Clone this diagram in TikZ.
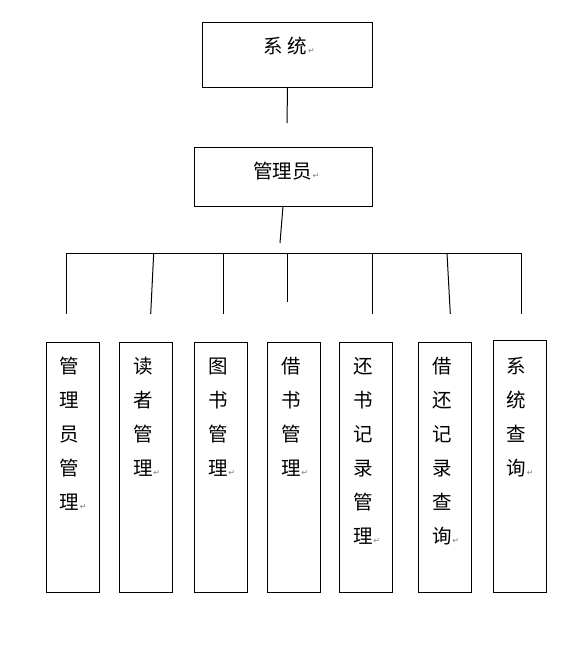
\documentclass[tikz,border=0pt]{standalone}
\usepackage{fontspec}
\newfontfamily\cjk{Noto Sans CJK SC}
\newfontfamily\dv{DejaVu Sans}
\tikzset{
 box/.style={draw=black, line width=1pt, inner sep=0pt, anchor=north west},
 ch/.style={font=\cjk\fontsize{19.5}{19.5}\selectfont, inner sep=0pt, anchor=base west},
 ret/.style={font=\dv\fontsize{8}{8}\selectfont, text=gray, inner sep=0pt, anchor=base west},
 conn/.style={line width=1pt, black},
}
\begin{document}
\begin{tikzpicture}[x=1pt,y=-1pt]
\useasboundingbox (0,0) rectangle (584,646);
\fill[white] (0,0) rectangle (584,646);
% top boxes
\node[box, minimum width=170pt, minimum height=65pt] (sys) at (202,22) {};
\node[ch] (sysT) at (263,53.5) {系\hspace{5pt}统};
\node[ret] (sysR) at ([xshift=0.5pt]sysT.base east) {↵};
\node[box, minimum width=178pt, minimum height=59pt] (adm) at (194,147) {};
\node[ch] (admT) at (253,178.5) {管理员};
\node[ret] (admR) at ([xshift=0.5pt]admT.base east) {↵};
% connectors
\coordinate (sysE) at (287,123);
\draw[conn] (sys.south) -- (sysE);
\coordinate (admS) at (283,206);
\coordinate (admE) at (280,243);
\draw[conn] (admS) -- (admE);
\coordinate (busL) at (66,253);
\coordinate (busR) at (521,253);
\draw[conn] (busL) -- (busR);
\foreach \j/\xt/\xb/\yb in {1/66/66/314, 2/153.7/150.7/314, 3/223.3/223.3/314, 4/287.3/287.3/301.5, 5/372.3/372.3/314, 6/447/450.3/314, 7/521.3/521.3/314}{
  \coordinate (dt\j) at (\xt,253);
  \coordinate (db\j) at (\xb,\yb);
  \draw[conn] (dt\j) -- (db\j);
}
% column boxes
\foreach \i/\x/\t/\n/\cs in {
  1/45.7/341.7/5/{管,理,员,管,理},
  2/119.3/341.7/4/{读,者,管,理},
  3/194.3/341.7/4/{图,书,管,理},
  4/267.3/341.7/4/{借,书,管,理},
  5/339.3/341.7/6/{还,书,记,录,管,理},
  6/418.3/341.7/6/{借,还,记,录,查,询},
  7/492.7/340.3/4/{系,统,查,询}}{
  \node[box, minimum width=53pt, minimum height={592-\t}] (b\i) at (\x,\t) {};
  \foreach \c [count=\k] in \cs {
    \node[ch] (c\i-\k) at ({\x+13.5},{373.5+(\k-1)*34}) {\c};
  }
  \node[ret] (r\i) at ([xshift=0.5pt]c\i-\n.base east) {↵};
}
\end{tikzpicture}
\end{document}
